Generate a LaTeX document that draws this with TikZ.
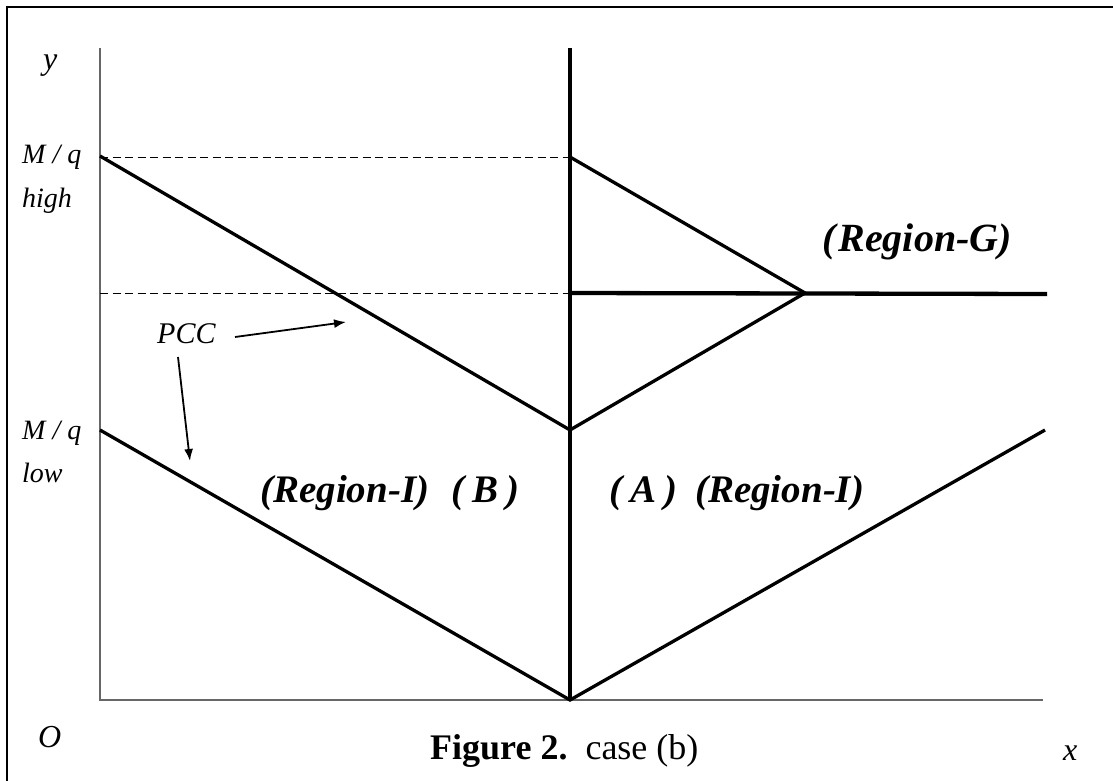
\documentclass[tikz,border=0pt]{standalone}
\usepackage{fontspec}
\setmainfont{Liberation Serif}
\usetikzlibrary{arrows.meta}
\begin{document}
\begin{tikzpicture}[x=1pt,y=-1pt,
  axisline/.style={line width=1.4pt,black!60},
  thickline/.style={line width=4.3pt,black},
  midline/.style={line width=3.3pt,black,line join=miter},
  dashline/.style={line width=1pt,dash pattern=on 8pt off 4.5pt},
  pointer/.style={line width=1.8pt,-{Latex[length=12pt,width=9pt]}},
  lab/.style={inner sep=0pt,anchor=base west,font=\fontsize{30}{34}\selectfont\itshape},
  reglab/.style={inner sep=0pt,anchor=base west,font=\fontsize{39}{42}\selectfont\bfseries\itshape},
  caption/.style={inner sep=0pt,anchor=base west,font=\fontsize{36}{40}\selectfont}]
\useasboundingbox (0,0) rectangle (1113,781);
% frame (top and left sides)
\draw[line width=2pt] (1120,7) -- (7,7) -- (7,790);
% coordinates
\coordinate (O) at (100,700);
\coordinate (ytop) at (100,48);
\coordinate (xend) at (1043,700);
\coordinate (H) at (100,156);
\coordinate (L) at (100,430);
\coordinate (Vb) at (570,700);
\coordinate (Vt) at (570,48);
\coordinate (P1) at (570,157);
\coordinate (P2) at (570,293);
\coordinate (P3) at (570,430);
\coordinate (Apex) at (805,293);
\coordinate (Gend) at (1047,294);
\coordinate (R) at (1045,430);
\coordinate (Dh) at (100,157);
\coordinate (Dm) at (100,293);
% axes
\draw[axisline] (ytop) -- (O) -- (xend);
% dashed guides
\draw[dashline] (Dh) -- (P1);
\draw[dashline] (Dm) -- (P2);
% vertical thick line
\draw[thickline] (Vt) -- (Vb);
% PCC lines
\draw[midline] (H) -- (P3);
\draw[midline] (L) -- (Vb) -- (R);
% triangle
\draw[midline] (P1) -- (Apex) -- (P3);
\draw[thickline] (P2) -- (Gend);
% labels
\node[lab,font=\fontsize{32}{34}\selectfont\itshape] (ylab) at (43,70) {y};
\node[lab,font=\fontsize{28}{30}\selectfont\itshape] (mqh) at (22,164) {M / q};
\node[lab,font=\fontsize{28}{30}\selectfont\itshape] (hi) at (22,207) {high};
\node[lab,font=\fontsize{28}{30}\selectfont\itshape] (mql) at (22,439) {M / q};
\node[lab,font=\fontsize{28}{30}\selectfont\itshape] (lo) at (22,482) {low};
\node[lab,font=\fontsize{32}{34}\selectfont\itshape] (olab) at (38,747) {O};
\node[lab,font=\fontsize{32}{34}\selectfont\itshape] (xlab) at (1063,760) {x};
\node[lab] (pcc) at (157,343) {PCC};
\coordinate (a1s) at (235,337);
\coordinate (a1e) at (346,322);
\coordinate (a2s) at (178,357);
\coordinate (a2e) at (190,461);
\draw[pointer] (a1s) -- (a1e);
\draw[pointer] (a2s) -- (a2e);
\node[reglab] (rib) at (260,502) {(Region-I)\hspace{22pt}(\hspace{8pt}B\hspace{8pt})};
\node[reglab] (ria) at (609,502) {(\hspace{8pt}A\hspace{8pt})\hspace{18pt}(Region-I)};
\node[reglab,font=\fontsize{40}{42}\selectfont\bfseries\itshape] (rg) at (822,251) {(\hspace{3pt}Region-G)};
\node[caption] (cap) at (430,759) {\textbf{Figure 2.}\hspace{18pt}case (b)};
\end{tikzpicture}
\end{document}
